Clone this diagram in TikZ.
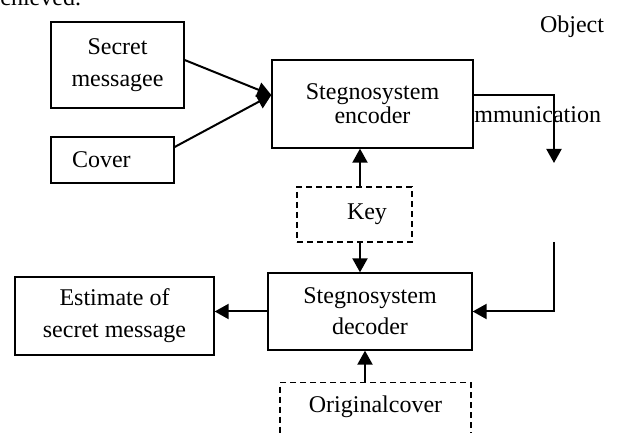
\documentclass[tikz,border=0pt]{standalone}
\usepackage{fontspec}
\setmainfont{Liberation Serif}
\usetikzlibrary{arrows.meta}
\tikzset{
  blk/.style={draw,line width=0.65pt,fill=white,align=center,inner sep=0pt},
  keyblk/.style={blk,dash pattern=on 3pt off 2pt},
  arr/.style={line width=1pt,-{Triangle[length=7pt,width=7.5pt]}}
}
\begin{document}
\begin{tikzpicture}[x=0.5pt,y=-0.5pt,font=\fontsize{12}{16}\selectfont]
\useasboundingbox (0,0) rectangle (623,433);
\clip (0,0) rectangle (623,433);
\node[anchor=base west,inner sep=0pt] (prev) at (0,6) {chieved.};
\node[anchor=base,inner sep=0pt] (obj) at (572,33) {Object};
\node[anchor=base west,inner sep=0pt] (comm) at (474,123) {mmunication};
% blocks
\node[blk,minimum width=66.5pt,minimum height=43pt] (secret) at (117.5,65) {Secret\\messagee};
\node[blk,minimum width=61.5pt,minimum height=23pt,text width=40.5pt,align=left] (cover) at (112.5,160) {Cover};
\node[blk,minimum width=100.5pt,minimum height=44pt,font=\fontsize{12}{12}\selectfont] (enc) at (372.5,104) {Stegnosystem\\encoder};
\node[keyblk,minimum width=57.5pt,minimum height=27.5pt,text width=32.5pt,align=right] (key) at (354.5,214.5) {Key};
\node[blk,minimum width=102pt,minimum height=38.5pt,font=\fontsize{12}{15.5}\selectfont] (dec) at (370,311.5) {Stegnosystem\\decoder};
\node[blk,minimum width=99.5pt,minimum height=39pt] (est) at (114.5,316) {Estimate of\\secret message};
\node[keyblk,minimum width=95.5pt,minimum height=32pt,anchor=north] (origbox) at (375.5,382) {};
\node (origtxt) at (375.5,407) {Originalcover};
% connectors
\coordinate (chanin) at (554,163); \coordinate (chanout) at (554,242);
\draw[arr] ([yshift=2.5pt]secret.east) -- ([yshift=4.5pt]enc.west);
\draw[arr] ([yshift=6.5pt]cover.east) -- ([yshift=4.5pt]enc.west);
\draw[arr] ([yshift=4.5pt]enc.east) -| (chanin);
\draw[arr] (chanout) |- (dec.east);
\draw[arr] ([xshift=2.75pt]key.north) -- ([xshift=2.75pt]key.north |- enc.south);
\draw[arr] ([xshift=2.75pt]key.south) -- ([xshift=2.75pt]key.south |- dec.north);
\draw[arr] ([xshift=-5.25pt]origbox.north) -- ([xshift=-5.25pt]origbox.north |- dec.south);
\draw[arr] (dec.west) -- (dec.west -| est.east);
\end{tikzpicture}
\end{document}
